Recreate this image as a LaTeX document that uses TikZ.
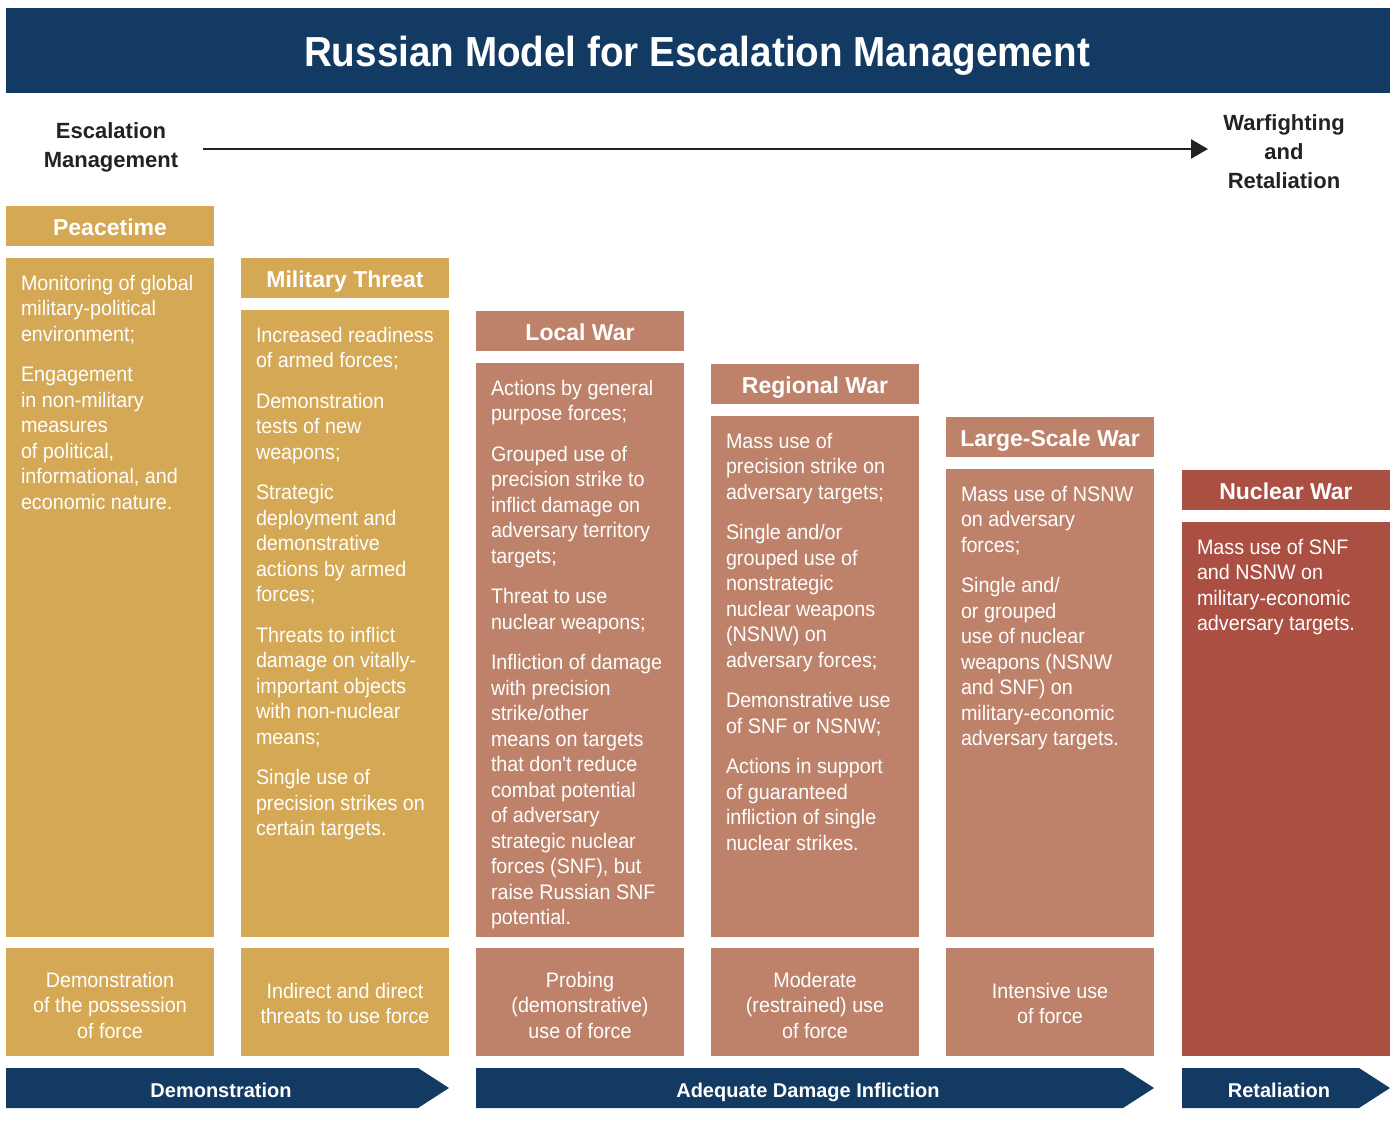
\documentclass[tikz,border=0pt]{standalone}
\usepackage{fontspec}
\setmainfont{Liberation Sans}
\newfontfamily\rgBody[FakeStretch=0.94]{Liberation Sans}
\newfontfamily\rgTitle[FakeStretch=0.92]{Liberation Sans}
\usetikzlibrary{arrows.meta}
\definecolor{navy}{HTML}{133A63}
\definecolor{gold}{HTML}{D4A854}
\definecolor{salmon}{HTML}{BE826A}
\definecolor{nukered}{HTML}{AA4F42}
\definecolor{inkk}{HTML}{222222}
\newcommand{\myTitleFont}{\rgTitle\bfseries\fontsize{42}{48}\selectfont}
\newcommand{\myHdrFont}{\bfseries\fontsize{23}{28}\selectfont}
\newcommand{\myBodyFont}{\rgBody\fontsize{21}{25.5}\selectfont}
\newcommand{\myChevFont}{\bfseries\fontsize{20}{24}\selectfont}
\newcommand{\myEscFont}{\bfseries\fontsize{22}{29}\selectfont}
\begin{document}
\begin{tikzpicture}[x=1pt,y=-1pt,
  every node/.style={inner sep=0pt, outer sep=0pt},
  blk/.style={anchor=north west, minimum width=208pt, draw=none},
  hdrtxt/.style={anchor=base, text=white, font=\myHdrFont},
  bodytxt/.style={anchor=north west, align=left, text=white, font=\myBodyFont},
  lowtxt/.style={anchor=north, align=center, text=white, font=\myBodyFont},
  chevtxt/.style={anchor=base, text=white, font=\myChevFont},
  esctxt/.style={anchor=north, align=center, font=\myEscFont, text=inkk}
]
\useasboundingbox (0,0) rectangle (1397,1139);

% title banner
\node[blk, fill=navy, minimum width=1384pt, minimum height=85pt] (banner) at (6,8) {};
\node[anchor=base, text=white, font=\myTitleFont] (title) at (697,67) {Russian Model for Escalation Management};

% escalation arrow
\node[esctxt] (escL) at (111,123) {Escalation\\Management};
\node[esctxt] (escR) at (1284,115) {Warfighting\\and\\Retaliation};
\coordinate (a0) at (203,149);
\coordinate (a1) at (1208,149);
\draw[line width=2.6pt, inkk, -{Triangle[length=17pt,width=19pt]}] (a0) -- (a1);

% ---------- column 1: Peacetime ----------
\node[blk, fill=gold, minimum height=40pt] (h1) at (6,206) {};
\node[hdrtxt] (h1t) at (110,235.5) {Peacetime};
\node[blk, fill=gold, minimum height=679pt] (b1) at (6,258) {};
\node[bodytxt] (b1t) at (21,275) {Monitoring of global\\military-political\\environment;\\[15pt]Engagement\\in non-military\\measures\\of political,\\informational, and\\economic nature.};
\node[blk, fill=gold, minimum height=108pt] (l1) at (6,948) {};
\node[lowtxt] (l1t) at (110,972) {Demonstration\\of the possession\\of force};

% ---------- column 2: Military Threat ----------
\node[blk, fill=gold, minimum height=40pt] (h2) at (241,258) {};
\node[hdrtxt] (h2t) at (345,287.5) {Military Threat};
\node[blk, fill=gold, minimum height=627pt] (b2) at (241,310) {};
\node[bodytxt] (b2t) at (256,327) {Increased readiness\\of armed forces;\\[15pt]Demonstration\\tests of new\\weapons;\\[15pt]Strategic\\deployment and\\demonstrative\\actions by armed\\forces;\\[15pt]Threats to inflict\\damage on vitally-\\important objects\\with non-nuclear\\means;\\[15pt]Single use of\\precision strikes on\\certain targets.};
\node[blk, fill=gold, minimum height=108pt] (l2) at (241,948) {};
\node[lowtxt] (l2t) at (345,983) {Indirect and direct\\threats to use force};

% ---------- column 3: Local War ----------
\node[blk, fill=salmon, minimum height=40pt] (h3) at (476,311) {};
\node[hdrtxt] (h3t) at (580,340.5) {Local War};
\node[blk, fill=salmon, minimum height=574pt] (b3) at (476,363) {};
\node[bodytxt] (b3t) at (491,380) {Actions by general\\purpose forces;\\[15pt]Grouped use of\\precision strike to\\inflict damage on\\adversary territory\\targets;\\[15pt]Threat to use\\nuclear weapons;\\[15pt]Infliction of damage\\with precision\\strike/other\\means on targets\\that don't reduce\\combat potential\\of adversary\\strategic nuclear\\forces (SNF), but\\raise Russian SNF\\potential.};
\node[blk, fill=salmon, minimum height=108pt] (l3) at (476,948) {};
\node[lowtxt] (l3t) at (580,972) {Probing\\(demonstrative)\\use of force};

% ---------- column 4: Regional War ----------
\node[blk, fill=salmon, minimum height=40pt] (h4) at (711,364) {};
\node[hdrtxt] (h4t) at (815,393.5) {Regional War};
\node[blk, fill=salmon, minimum height=521pt] (b4) at (711,416) {};
\node[bodytxt] (b4t) at (726,433) {Mass use of\\precision strike on\\adversary targets;\\[15pt]Single and/or\\grouped use of\\nonstrategic\\nuclear weapons\\(NSNW) on\\adversary forces;\\[15pt]Demonstrative use\\of SNF or NSNW;\\[15pt]Actions in support\\of guaranteed\\infliction of single\\nuclear strikes.};
\node[blk, fill=salmon, minimum height=108pt] (l4) at (711,948) {};
\node[lowtxt] (l4t) at (815,972) {Moderate\\(restrained) use\\of force};

% ---------- column 5: Large-Scale War ----------
\node[blk, fill=salmon, minimum height=40pt] (h5) at (946,417) {};
\node[hdrtxt] (h5t) at (1050,446.5) {Large-Scale War};
\node[blk, fill=salmon, minimum height=468pt] (b5) at (946,469) {};
\node[bodytxt] (b5t) at (961,486) {Mass use of NSNW\\on adversary\\forces;\\[15pt]Single and/\\or grouped\\use of nuclear\\weapons (NSNW\\and SNF) on\\military-economic\\adversary targets.};
\node[blk, fill=salmon, minimum height=108pt] (l5) at (946,948) {};
\node[lowtxt] (l5t) at (1050,983) {Intensive use\\of force};

% ---------- column 6: Nuclear War ----------
\node[blk, fill=nukered, minimum height=40pt] (h6) at (1182,470) {};
\node[hdrtxt] (h6t) at (1286,499.5) {Nuclear War};
\node[blk, fill=nukered, minimum height=534pt] (b6) at (1182,522) {};
\node[bodytxt] (b6t) at (1197,539) {Mass use of SNF\\and NSNW on\\military-economic\\adversary targets.};

% ---------- bottom chevrons ----------
\fill[navy] (6,1068) -- (418,1068) -- (449,1088) -- (418,1108) -- (6,1108) -- cycle;
\node[chevtxt] (c1) at (221,1097) {Demonstration};
\fill[navy] (476,1068) -- (1123,1068) -- (1154,1088) -- (1123,1108) -- (476,1108) -- cycle;
\node[chevtxt] (c2) at (808,1097) {Adequate Damage Infliction};
\fill[navy] (1182,1068) -- (1359,1068) -- (1390,1088) -- (1359,1108) -- (1182,1108) -- cycle;
\node[chevtxt] (c3) at (1279,1097) {Retaliation};
\end{tikzpicture}
\end{document}
